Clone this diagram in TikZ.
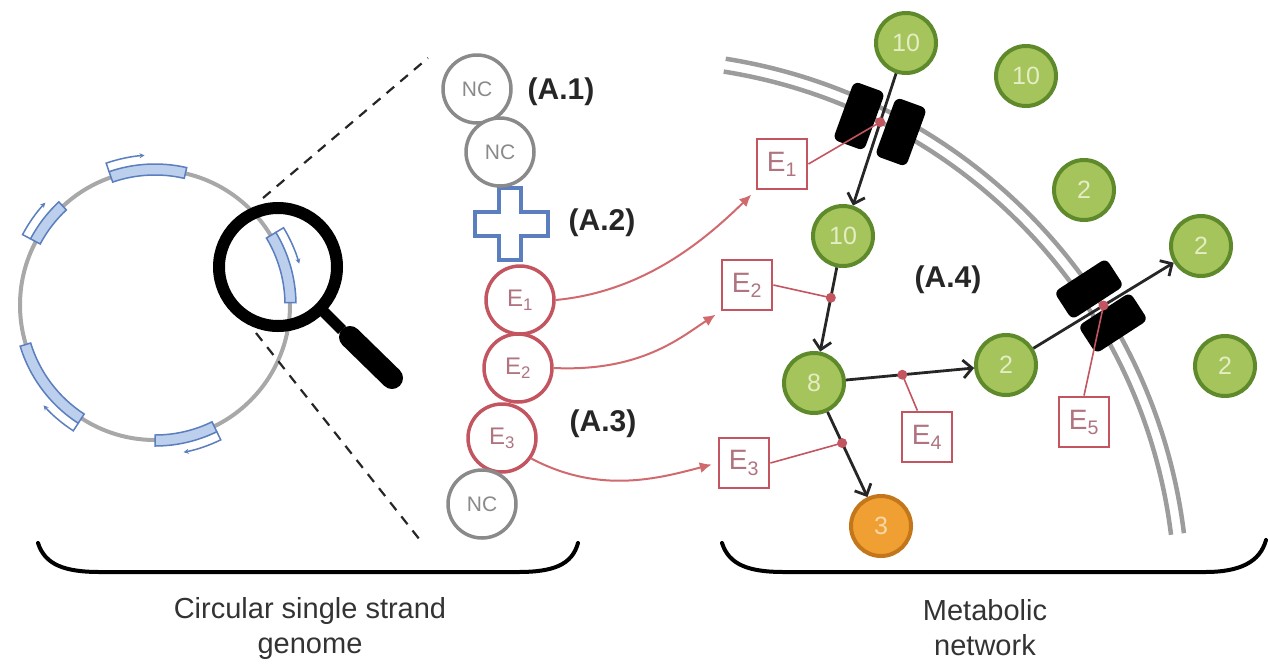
\documentclass[tikz,border=0pt]{standalone}
\usepackage{fontspec}
\setmainfont{Liberation Sans}
\usetikzlibrary{arrows.meta,calc}

\definecolor{genegray}{HTML}{A8A8A8}
\definecolor{geneblue}{HTML}{5A7EBE}
\definecolor{genefill}{HTML}{BCCFEC}
\definecolor{ncgray}{HTML}{8A8A8A}
\definecolor{enzred}{HTML}{C25560}
\definecolor{enztext}{HTML}{B07480}
\definecolor{exprred}{HTML}{D06A6E}
\definecolor{metfill}{HTML}{A6C45C}
\definecolor{metedge}{HTML}{5E8A2C}
\definecolor{mettext}{HTML}{E4EDC4}
\definecolor{orfill}{HTML}{F0A032}
\definecolor{oredge}{HTML}{C4761A}
\definecolor{ortext}{HTML}{F8D8A8}
\definecolor{memgray}{HTML}{9C9C9C}

\begin{document}
\begin{tikzpicture}[x=1pt,y=-1pt,
  chainc/.style={circle, minimum size=68pt, inner sep=0pt, line width=3.5pt, fill=white},
  ncnode/.style={chainc, draw=ncgray, text=ncgray, font=\fontsize{21}{21}\selectfont},
  enode/.style={chainc, draw=enzred, text=enztext, font=\fontsize{24}{24}\selectfont},
  met/.style={circle, minimum size=60pt, inner sep=0pt, line width=4pt, draw=metedge, fill=metfill, text=mettext, font=\fontsize{25}{25}\selectfont},
  prod/.style={met, draw=oredge, fill=orfill, text=ortext},
  ebox/.style={rectangle, minimum size=50pt, inner sep=0pt, line width=2.8pt, draw=enzred, fill=white, text=enztext, font=\fontsize{28}{28}\selectfont},
  catdot/.style={circle, fill=enzred, inner sep=0pt, minimum size=10pt},
  catlink/.style={draw=enzred, line width=1.6pt},
  react/.style={draw=black!85, line width=2.8pt, -{Straight Barb[length=9pt,width=18pt]}},
  expr/.style={draw=exprred, line width=2pt, -{Latex[length=12pt,width=11pt]}, shorten >=6pt},
  transp/.style={rectangle, rounded corners=6pt, fill=black, minimum width=33pt, minimum height=62pt, inner sep=0pt},
  partlabel/.style={font=\bfseries\fontsize{30}{30}\selectfont, text=black!85},
  captext/.style={font=\fontsize{29}{35}\selectfont, text=black!80, align=center},
  bracepath/.style={draw=black, line width=4pt, line cap=round},
  membrane/.style={draw=memgray, line width=4.5pt},
]
\useasboundingbox (0,0) rectangle (1268,667);

% ---------- circular genome with its genes ----------
\begin{scope}[shift={(155,305)}, yscale=-1]
  \draw[genegray, line width=4pt] (0,0) circle[radius=135];
  \foreach \a/\b in {77/109, 133/152, 197/237, 270/296, 1/31} {
    \draw[geneblue, fill=genefill, line width=1.5pt]
      (\a:130) arc[start angle=\a, end angle=\b, radius=130]
      -- (\b:141) arc[start angle=\b, end angle=\a, radius=141] -- cycle;
    \draw[geneblue, line width=1.5pt, -{Stealth[length=5pt,width=5pt]}]
      (\b:141) -- (\b:150) arc[start angle=\b, end angle=\b-15, radius=150];
  }
\end{scope}

% magnifying glass
\draw[black, line width=12pt] (278,267) circle[radius=59];
\draw[black, line width=11pt] (322,310) -- (342,330);
\draw[black, line width=22pt, line cap=round] (350,337) -- (392,378);

% zoom guides
\coordinate (lensT) at (263,198);
\coordinate (zoomT) at (428,58);
\coordinate (lensB) at (256,333);
\coordinate (zoomB) at (420,540);
\draw[black!85, line width=2.2pt, dash pattern=on 10pt off 8pt] (lensT) -- (zoomT);
\draw[black!85, line width=2.2pt, dash pattern=on 10pt off 8pt] (lensB) -- (zoomB);

% ---------- zoomed gene chain ----------
\draw[geneblue, line width=3.5pt, fill=white]
  (499,188) -- (521,188) -- (521,212) -- (548,212) -- (548,236) -- (521,236)
  -- (521,260) -- (499,260) -- (499,236) -- (475,236) -- (475,212) -- (499,212) -- cycle;
\node[ncnode] (nc1) at (477,89) {NC};
\node[ncnode] (nc2) at (500,152) {NC};
\node[enode] (e1) at (520,300) {E\textsubscript{1}};
\node[enode] (e2) at (518,368) {E\textsubscript{2}};
\node[enode] (e3) at (502,438) {E\textsubscript{3}};
\node[ncnode] (nc3) at (482,504) {NC};

\node[partlabel] at (561,92) {(A.1)};
\node[partlabel] at (602,223) {(A.2)};
\node[partlabel] at (603,424) {(A.3)};
\node[partlabel] at (948,280) {(A.4)};

% ---------- cell membrane ----------
\coordinate (cellc) at (640,600);
\draw[membrane] (cellc) ++(-81:548) arc[start angle=-81, end angle=-7, radius=548];
\draw[membrane] (cellc) ++(-81:535) arc[start angle=-81, end angle=-7, radius=535];

% transporters
\node[transp, rotate=-20] (t1a) at (859,116) {};
\node[transp, rotate=-20] (t1b) at (901,132) {};
\node[transp, rotate=-57] (t2a) at (1089,289) {};
\node[transp, rotate=-57] (t2b) at (1113,323) {};

% ---------- metabolites ----------
\node[met] (m10o) at (906,43) {10};
\node[met] (m10r) at (1026,76) {10};
\node[met] (m2a) at (1084,190) {2};
\node[met] (m2b) at (1201,246) {2};
\node[met] (m2c) at (1225,366) {2};
\node[met] (m10in) at (843,236) {10};
\node[met] (m8) at (814,383) {8};
\node[met] (m2in) at (1006,365) {2};
\node[prod] (m3) at (881,526) {3};

% ---------- enzymes ----------
\node[ebox] (b1) at (782,164) {E\textsubscript{1}};
\node[ebox] (b2) at (747,285) {E\textsubscript{2}};
\node[ebox] (b3) at (744,463) {E\textsubscript{3}};
\node[ebox] (b4) at (927,437) {E\textsubscript{4}};
\node[ebox] (b5) at (1084,422) {E\textsubscript{5}};

% reactions
\draw[react] (m10o) -- (m10in);
\draw[react] (m10in) -- (m8);
\draw[react] (m8) -- (m2in);
\draw[react] (m8) -- (m3);
\draw[react] (m2in) -- (m2b);

% catalysis marks
\coordinate (c1) at ($(m10o)!0.41!(m10in)$);
\coordinate (c2) at ($(m10in)!0.42!(m8)$);
\coordinate (c3) at ($(m8)!0.42!(m3)$);
\coordinate (c4) at ($(m8)!0.46!(m2in)$);
\coordinate (c5) at ($(m2in)!0.5!(m2b)$);
\draw[catlink] (b1.east) -- (c1);
\draw[catlink] (b2.east) -- (c2);
\draw[catlink] (b3.east) -- (c3);
\draw[catlink] (b4.110) -- (c4);
\draw[catlink] (b5.north) -- (c5);
\foreach \c in {c1,c2,c3,c4,c5} \node[catdot] at (\c) {};

% expression of genes into enzymes
\draw[expr] (e1.east) .. controls (640,292) and (700,245) .. (b1.south west);
\draw[expr] (e2.east) .. controls (640,372) and (680,338) .. (b2.south west);
\draw[expr] (e3.-35) .. controls (600,495) and (660,478) .. (b3.west);

% ---------- braces and captions ----------
\draw[bracepath] (38,543) .. controls (45,565) and (65,572) .. (100,572) -- (518,572)
  .. controls (553,572) and (572,565) .. (578,543);
\draw[bracepath] (722,543) .. controls (729,565) and (749,572) .. (784,572) -- (1205,572)
  .. controls (1240,572) and (1260,562) .. (1266,540);
\node[captext] (capL) at (310,628) {Circular single strand\\genome};
\node[captext] (capR) at (985,628) {Metabolic\\network};
\end{tikzpicture}
\end{document}
